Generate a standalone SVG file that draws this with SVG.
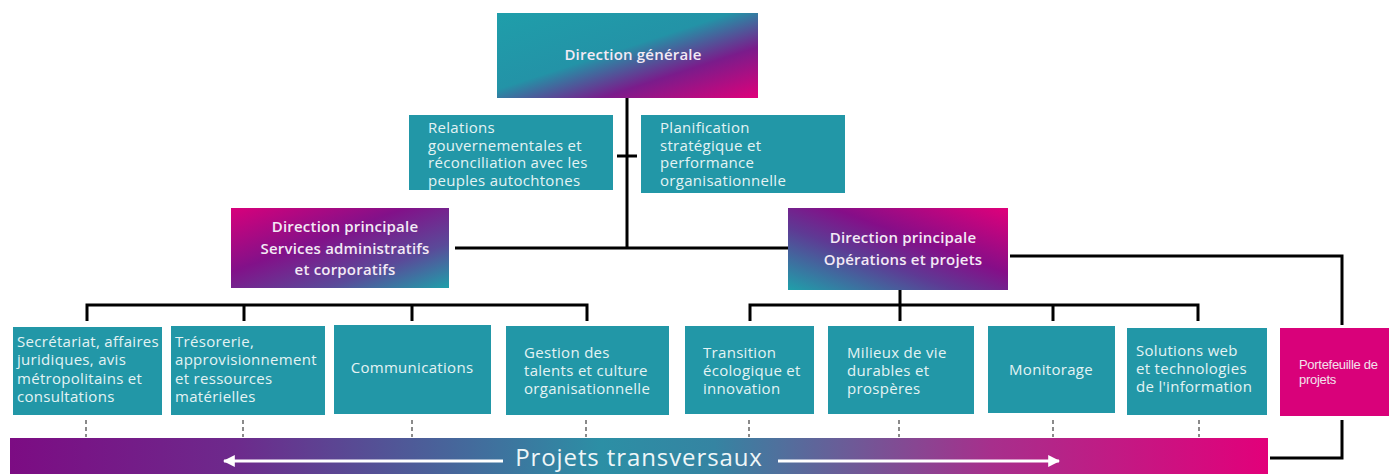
<svg xmlns="http://www.w3.org/2000/svg" width="1389" height="474" viewBox="0 0 1389 474">
<defs>
<linearGradient id="gDG" x1="0" y1="0" x2="1" y2="1">
<stop offset="0" stop-color="#1f9eaa"/>
<stop offset="0.45" stop-color="#2393a7"/>
<stop offset="0.7" stop-color="#7a1c8b"/>
<stop offset="1" stop-color="#e0007a"/>
</linearGradient>
<linearGradient id="gSA" x1="0" y1="0" x2="1" y2="1">
<stop offset="0" stop-color="#d8007b"/>
<stop offset="0.4" stop-color="#821189"/>
<stop offset="0.72" stop-color="#5a4a99"/>
<stop offset="1" stop-color="#1fa0aa"/>
</linearGradient>
<linearGradient id="gOP" x1="0" y1="1" x2="1" y2="0">
<stop offset="0" stop-color="#1fa0aa"/>
<stop offset="0.38" stop-color="#5e3a94"/>
<stop offset="0.6" stop-color="#850e88"/>
<stop offset="1" stop-color="#e0007a"/>
</linearGradient>
<linearGradient id="gBar" x1="0" y1="0" x2="1" y2="0">
<stop offset="0" stop-color="#7c0c83"/>
<stop offset="0.18" stop-color="#6d2a8c"/>
<stop offset="0.47" stop-color="#2c8fa5"/>
<stop offset="0.56" stop-color="#3584a2"/>
<stop offset="0.78" stop-color="#a72f8c"/>
<stop offset="1" stop-color="#e2007a"/>
</linearGradient>
<marker id="ah" viewBox="0 0 10 10" refX="9" refY="5" markerWidth="4" markerHeight="4" orient="auto-start-reverse" markerUnits="strokeWidth">
<path d="M0,0 L10,5 L0,10 Z" fill="#ffffff"/>
</marker>
<style>
.box{fill:#2297a7}
.t{font-family:"Open Sans","Liberation Sans",sans-serif;font-size:15px;fill:#e4f3f4;letter-spacing:0.3px}
.h{font-family:"Open Sans","Liberation Sans",sans-serif;font-size:15px;font-weight:600;fill:#f3eaf5;text-anchor:middle;letter-spacing:0.2px}
.ln{stroke:#000;stroke-width:3;fill:none}
.dash{stroke:#8a8a8a;stroke-width:2;stroke-dasharray:4 3;fill:none}
.arr{stroke:#fff;stroke-width:3;fill:none}
</style>
</defs>

<g id="connectors">
<path class="ln" d="M627,98 V248 M455,248 H788"/>
<path class="ln" d="M617,156 H637"/>
<path class="ln" d="M87,321 V305 H587 V321 M244,305 V321 M412,305 V321"/>
<path class="ln" d="M900,290 V321 M750,321 V305 H1198 V321 M1053,305 V321"/>
<path class="ln" d="M1010,256 H1342 V325 M1342,420 V458 H1270"/>
<path class="dash" d="M86,420 V437 M243,420 V437 M412,420 V437 M586,420 V437 M749,420 V437 M899,420 V437 M1053,420 V437 M1199,420 V437"/>
</g>

<g id="direction-generale">
<rect x="497" y="13" width="261" height="85" fill="url(#gDG)"/>
<text class="h" x="633" y="60">Direction générale</text>
</g>

<g id="relations">
<rect class="box" x="409" y="115" width="204" height="75"/>
<text class="t" x="428" y="133">Relations<tspan x="428" dy="17.5">gouvernementales  et</tspan><tspan x="428" dy="17.5">réconciliation avec les</tspan><tspan x="428" dy="17.5">peuples autochtones</tspan></text>
</g>

<g id="planification">
<rect class="box" x="641" y="115" width="204" height="78"/>
<text class="t" x="660" y="133">Planification<tspan x="660" dy="17.5">stratégique et</tspan><tspan x="660" dy="17.5">performance</tspan><tspan x="660" dy="17.5">organisationnelle</tspan></text>
</g>

<g id="dp-services">
<rect x="231" y="208" width="218" height="80" fill="url(#gSA)"/>
<text class="h" x="345" y="232">Direction principale<tspan x="345" dy="21.5">Services  administratifs</tspan><tspan x="345" dy="21.5">et corporatifs</tspan></text>
</g>

<g id="dp-operations">
<rect x="788" y="208" width="220" height="82" fill="url(#gOP)"/>
<text class="h" x="903" y="243">Direction principale<tspan x="903" dy="22">Opérations et projets</tspan></text>
</g>

<g id="secretariat">
<rect class="box" x="13" y="327" width="149" height="88"/>
<text class="t" x="17" y="347">Secrétariat, affaires<tspan x="17" dy="18.3">juridiques, avis</tspan><tspan x="17" dy="18.3">métropolitains et</tspan><tspan x="17" dy="18.3">consultations</tspan></text>
</g>

<g id="tresorerie">
<rect class="box" x="171" y="326" width="154" height="89"/>
<text class="t" x="175" y="347">Trésorerie,<tspan x="175" dy="18.3">approvisionnement</tspan><tspan x="175" dy="18.3">et ressources</tspan><tspan x="175" dy="18.3">matérielles</tspan></text>
</g>

<g id="communications">
<rect class="box" x="334" y="325" width="157" height="89"/>
<text class="t" x="412" y="373" text-anchor="middle">Communications</text>
</g>

<g id="gestion">
<rect class="box" x="506" y="326" width="163" height="89"/>
<text class="t" x="524" y="358">Gestion des<tspan x="524" dy="18">talents et culture</tspan><tspan x="524" dy="18">organisationnelle</tspan></text>
</g>

<g id="transition">
<rect class="box" x="685" y="326" width="129" height="88"/>
<text class="t" x="703" y="358">Transition<tspan x="703" dy="18">écologique et</tspan><tspan x="703" dy="18">innovation</tspan></text>
</g>

<g id="milieux">
<rect class="box" x="828" y="326" width="146" height="88"/>
<text class="t" x="847" y="358">Milieux de vie<tspan x="847" dy="18">durables et</tspan><tspan x="847" dy="18">prospères</tspan></text>
</g>

<g id="monitorage">
<rect class="box" x="988" y="326" width="127" height="87"/>
<text class="t" x="1051" y="375" text-anchor="middle">Monitorage</text>
</g>

<g id="solutions">
<rect class="box" x="1127" y="328" width="140" height="87"/>
<text class="t" x="1136" y="356">Solutions web<tspan x="1136" dy="18">et technologies</tspan><tspan x="1136" dy="18">de l'information</tspan></text>
</g>

<g id="portefeuille">
<rect x="1280" y="328" width="109" height="88" fill="#d9017a"/>
<text x="1299" y="369" font-family="'Liberation Sans',sans-serif" font-size="13" letter-spacing="-0.3" fill="#f3e2ec">Portefeuille de<tspan x="1299" dy="15">projets</tspan></text>
</g>

<g id="projets-transversaux">
<rect x="10" y="438" width="1258" height="36" fill="url(#gBar)"/>
<path class="arr" d="M503,461 H224" marker-end="url(#ah)"/>
<path class="arr" d="M778,461 H1059" marker-end="url(#ah)"/>
<text x="639" y="466" text-anchor="middle" font-family="'Open Sans','Liberation Sans',sans-serif" font-size="24" letter-spacing="0.9" fill="#eef6f8">Projets transversaux</text>
</g>
</svg>
